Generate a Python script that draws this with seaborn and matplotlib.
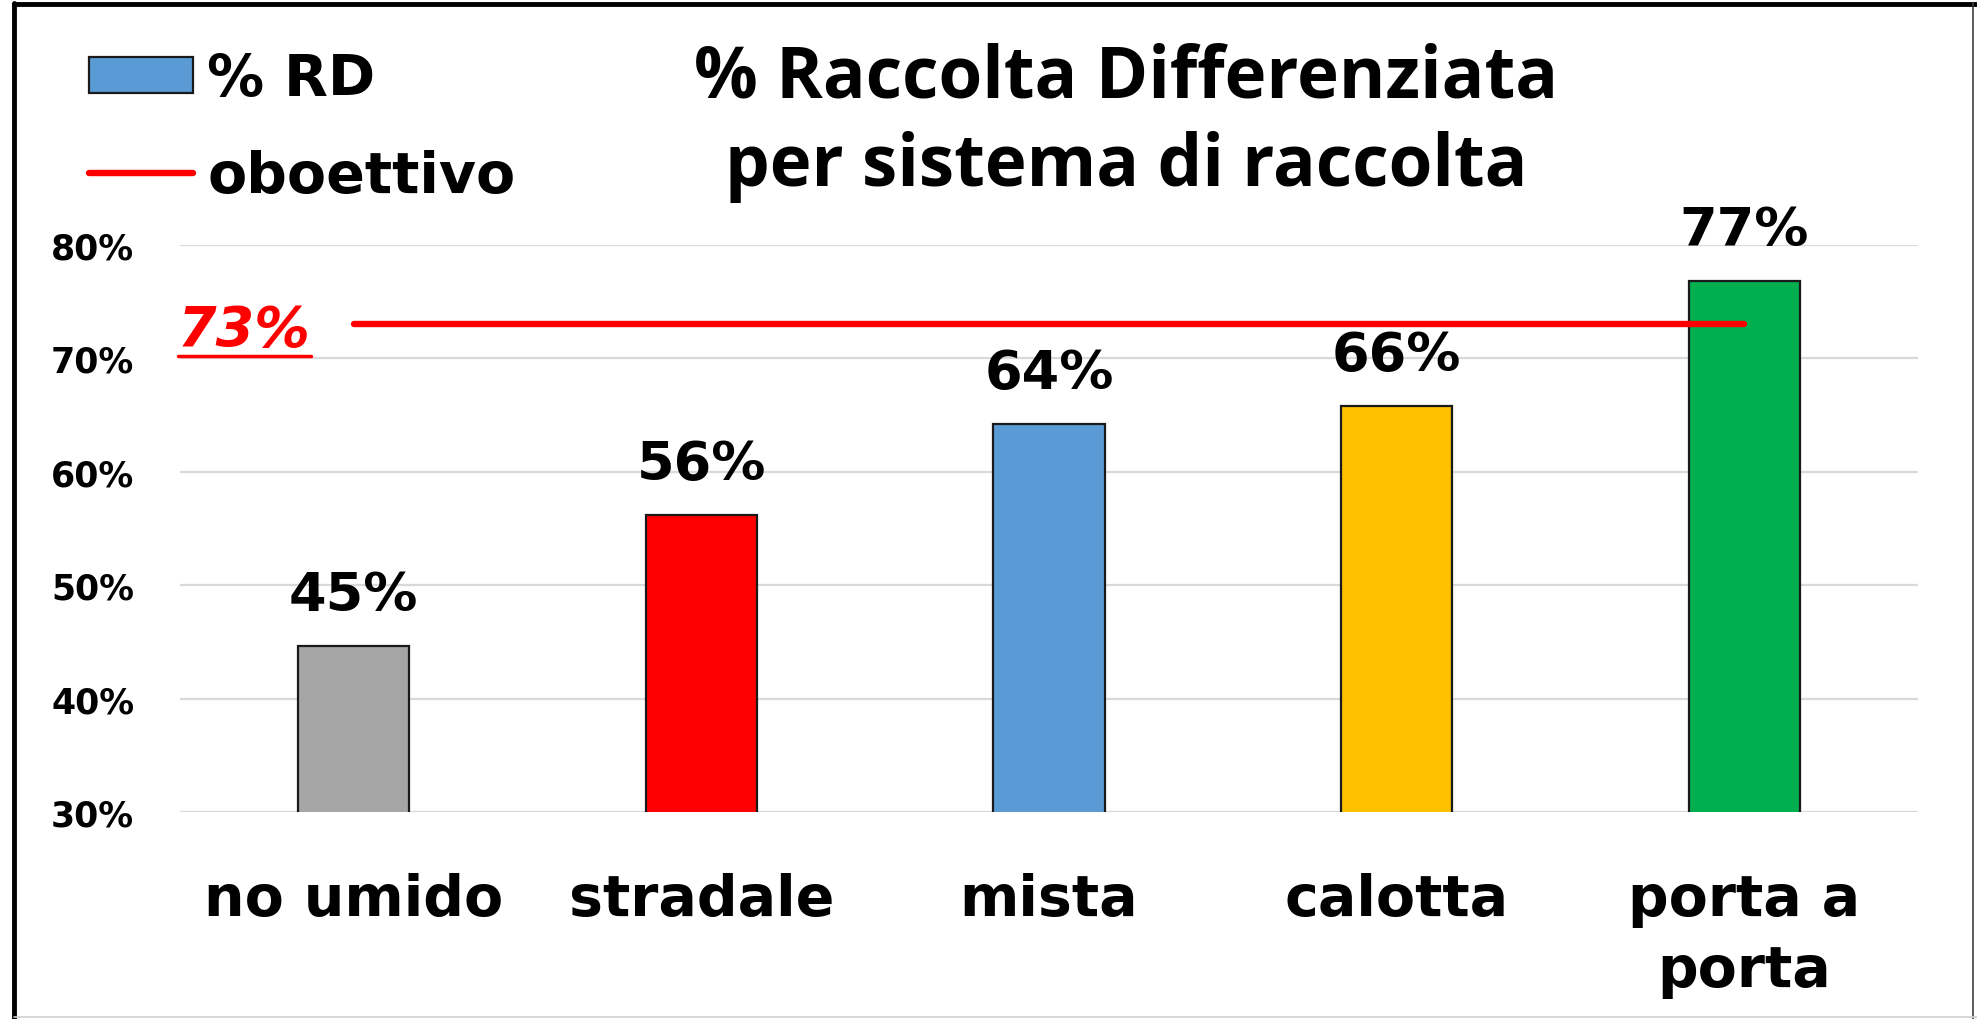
import numpy as np
import pandas as pd
import matplotlib
matplotlib.use("Agg")
import matplotlib.pyplot as plt
import seaborn as sns
from matplotlib.patches import Patch
from matplotlib.lines import Line2D

# ---- data ----
categories = ["no umido", "stradale", "mista", "calotta", "porta a\nporta"]
rd_values = [44.6, 56.2, 64.2, 65.8, 76.8]
target_values = [73, 73, 73, 73, 73]
bar_colors = ["#A5A5A5", "#FF0000", "#5B9BD5", "#FFC000", "#00B050"]
y_ticks = [30, 40, 50, 60, 70, 80]
title_lines = ["% Raccolta Differenziata", "per sistema di raccolta"]
legend_labels = ["% RD", "oboettivo"]
target_label = "73%"

sns.set_theme(style="white")
plt.rcParams["font.family"] = ["DejaVu Sans"]
plt.rcParams["text.color"] = "black"
plt.rcParams["xtick.color"] = "black"
plt.rcParams["ytick.color"] = "black"

W, H = 1977, 1020
fig = plt.figure(figsize=(W / 100, H / 100), dpi=100)
ax = fig.add_axes([180 / W, 1 - 813 / H, (1918 - 180) / W, (813 - 246) / H])

df = pd.DataFrame({"cat": categories, "val": rd_values})
sns.barplot(data=df, x="cat", y="val", hue="cat", palette=bar_colors,
            saturation=1, legend=False, width=0.32, edgecolor="#1a1a1a",
            linewidth=1.6, ax=ax, zorder=3)

pos = np.arange(len(categories))
sns.lineplot(x=pos, y=target_values, color="#FF0000", linewidth=4.6,
             ax=ax, zorder=4, solid_capstyle="round")

ax.set_xlim(-0.5, len(categories) - 0.5)
ax.set_ylim(y_ticks[0], y_ticks[-1])
ax.set_yticks(y_ticks)
ax.set_yticklabels([f"{t}%" for t in y_ticks], fontsize=25, fontweight="bold")
ax.tick_params(axis="y", length=0, pad=33, colors="black")
ax.tick_params(axis="x", length=0, pad=43, labelsize=41, colors="black")
for lab in ax.get_xticklabels():
    lab.set_fontweight("bold")
    lab.set_linespacing(1.38)
ax.set_xlabel("")
ax.set_ylabel("")
ax.grid(axis="y", color="#D9D9D9", linewidth=1.6, zorder=0)
ax.grid(axis="x", visible=False)
for s in ax.spines.values():
    s.set_visible(False)

for cont in ax.containers:
    vals = [b.get_height() for b in cont]
    ax.bar_label(cont, labels=[f"{round(v)}%" for v in vals], padding=18,
                 fontsize=39, fontweight="bold", color="black", clip_on=False)

# target label
t73 = ax.text(-0.315, 72.5, target_label, color="#FF0000", fontsize=40,
              fontweight="bold", fontstyle="italic", ha="center", va="center")

# title
fig.text(1126 / W, 1 - 79 / H, title_lines[0], ha="center", va="center",
         fontsize=51, fontweight="bold", family="Open Sans", color="black")
fig.text(1126 / W, 1 - 167 / H, title_lines[1], ha="center", va="center",
         fontsize=51, fontweight="bold", family="Open Sans", color="black")

# legend
handles = [Patch(facecolor="#5B9BD5", edgecolor="#1a1a1a", linewidth=1.6),
           Line2D([0], [0], color="#FF0000", linewidth=4.6, solid_capstyle="round")]
leg = fig.legend(handles, legend_labels, loc="upper left",
                 bbox_to_anchor=(89 / W, 1 - 53 / H), frameon=False,
                 prop={"weight": "bold", "size": 41}, handlelength=1.82,
                 handleheight=0.6, handletextpad=0.26, labelspacing=0.74,
                 borderpad=0, borderaxespad=0)
for t in leg.get_texts():
    t.set_color("black")

# underline of 73% label
fig.canvas.draw()
bb = t73.get_window_extent()
uy = bb.y0 + 1
fig.add_artist(Line2D([bb.x0 / W, bb.x1 / W], [uy / H, uy / H], color="#FF0000",
                      linewidth=2.5, transform=fig.transFigure))

# frame
fig.add_artist(Line2D([14 / W, 14 / W], [0, 1 - 4 / H], color="black", linewidth=3.5,
                      transform=fig.transFigure))
fig.add_artist(Line2D([14 / W, 1], [1 - 5 / H, 1 - 5 / H], color="black", linewidth=3.5,
                      transform=fig.transFigure))
fig.add_artist(Line2D([1973 / W, 1973 / W], [0, 1 - 4 / H], color="#404040", linewidth=1.2,
                      transform=fig.transFigure))
fig.add_artist(Line2D([14 / W, 1], [2 / H, 2 / H], color="#D0D0D0", linewidth=1.2,
                      transform=fig.transFigure))

fig.savefig("out.png", dpi=100)
